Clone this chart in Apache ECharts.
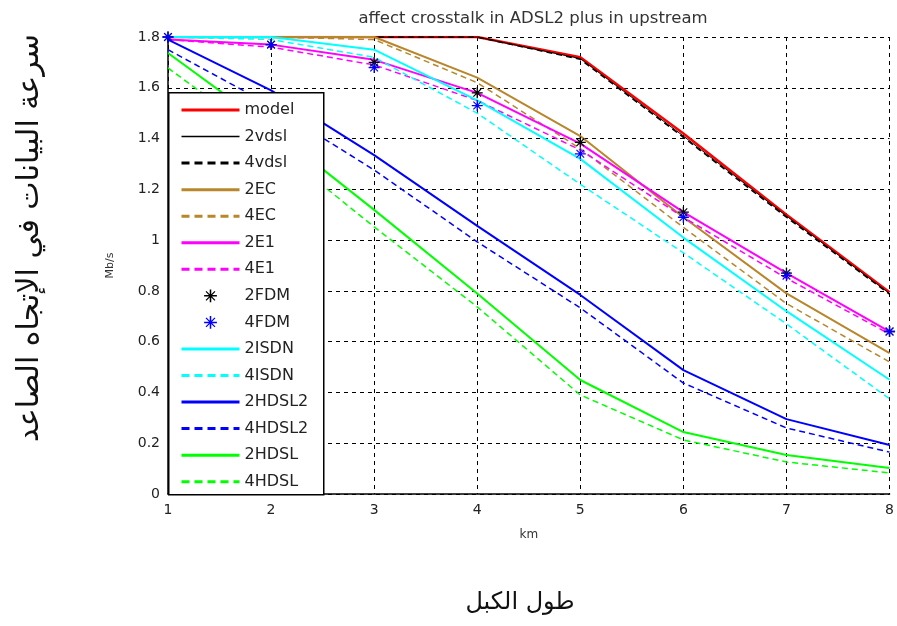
<!DOCTYPE html>
<html>
<head>
<meta charset="utf-8">
<script src="https://cdn.jsdelivr.net/npm/echarts@6/dist/echarts.min.js"></script>
<style>
html,body{margin:0;padding:0;background:#fff;}
#chart{width:897px;height:626px;}
</style>
</head>
<body>
<div id="chart"></div>
<script>
// ---- data ----
var km = [1, 2, 3, 4, 5, 6, 7, 8];
var yTicks = [0, 0.2, 0.4, 0.6, 0.8, 1, 1.2, 1.4, 1.6, 1.8];
var seriesNames = ['model','2vdsl','4vdsl','2EC','4EC','2E1','4E1','2FDM','4FDM','2ISDN','4ISDN','2HDSL2','4HDSL2','2HDSL','4HDSL'];
var model  = [1.80, 1.80, 1.80, 1.80, 1.72, 1.42, 1.10, 0.795];
var vdsl2  = [1.80, 1.80, 1.80, 1.80, 1.715, 1.41, 1.095, 0.79];
var vdsl4  = [1.80, 1.80, 1.80, 1.80, 1.712, 1.405, 1.09, 0.787];
var ec2    = [1.80, 1.80, 1.80, 1.64, 1.41, 1.09, 0.79, 0.555];
var ec4    = [1.80, 1.80, 1.79, 1.62, 1.36, 1.05, 0.75, 0.52];
var e12    = [1.79, 1.77, 1.71, 1.58, 1.38, 1.11, 0.87, 0.64];
var e14    = [1.79, 1.76, 1.69, 1.55, 1.355, 1.09, 0.85, 0.63];
var fdm2   = [1.80, 1.77, 1.70, 1.58, 1.385, 1.11, 0.87, 0.64];
var fdm4   = [1.80, 1.77, 1.68, 1.53, 1.34, 1.09, 0.86, 0.64];
var isdn2  = [1.80, 1.80, 1.75, 1.55, 1.32, 1.01, 0.72, 0.45];
var isdn4  = [1.80, 1.79, 1.72, 1.50, 1.22, 0.95, 0.67, 0.375];
var hdsl22 = [1.79, 1.59, 1.335, 1.056, 0.784, 0.488, 0.295, 0.193];
var hdsl24 = [1.75, 1.53, 1.276, 0.993, 0.733, 0.437, 0.26, 0.165];
var hdsl2  = [1.737, 1.44, 1.119, 0.79, 0.449, 0.244, 0.154, 0.102];
var hdsl4  = [1.678, 1.38, 1.052, 0.737, 0.39, 0.213, 0.126, 0.083];

function pairs(arr){ return km.map(function(x,i){ return [x, arr[i]]; }); }

var star = 'path://M-0.6,-5L0.6,-5L0.6,5L-0.6,5Z M-5,-0.6L5,-0.6L5,0.6L-5,0.6Z M-3.146,-3.854L3.854,3.146L3.146,3.854L-3.854,-3.146Z M-3.854,3.146L3.146,-3.854L3.854,-3.146L-3.146,3.854Z';

var BROWN = '#b8862b';
function lineS(name, arr, color, width, dashed){
  return {
    name: name, type: 'line', data: pairs(arr), symbol: 'none', silent: true,
    lineStyle: { color: color, width: width, type: dashed ? [6, 4] : 'solid' },
    itemStyle: { color: color, opacity: 0 },
    animation: false
  };
}
function markS(name, arr, color){
  return {
    name: name, type: 'line', data: pairs(arr), symbol: star, symbolSize: 11,
    showSymbol: true, silent: true,
    lineStyle: { width: 0, opacity: 0, color: color },
    itemStyle: { color: color },
    animation: false, z: 4
  };
}

var series = [
  lineS('model', model, '#ff0000', 2.5, false),
  lineS('2vdsl', vdsl2, '#000000', 1, false),
  lineS('4vdsl', vdsl4, '#000000', 1.5, true),
  lineS('2EC', ec2, BROWN, 2, false),
  lineS('4EC', ec4, BROWN, 1.5, true),
  lineS('2E1', e12, '#ff00ff', 2, false),
  lineS('4E1', e14, '#ff00ff', 1.5, true),
  markS('2FDM', fdm2, '#000000'),
  markS('4FDM', fdm4, '#0000ff'),
  lineS('2ISDN', isdn2, '#00ffff', 2, false),
  lineS('4ISDN', isdn4, '#00ffff', 1.5, true),
  lineS('2HDSL2', hdsl22, '#0000ff', 2, false),
  lineS('4HDSL2', hdsl24, '#0000ff', 1.5, true),
  lineS('2HDSL', hdsl2, '#00ff00', 2, false),
  lineS('4HDSL', hdsl4, '#00ff00', 1.5, true)
];

var legendData = seriesNames.map(function(n){
  if (n === '2FDM' || n === '4FDM') return { name: n };
  var dashed = n.charAt(0) === '4';
  return { name: n, itemStyle: { opacity: 0 },
    lineStyle: { width: n === '2vdsl' ? 1.5 : 3, type: dashed ? [8, 5] : 'solid' } };
});

var chart = echarts.init(document.getElementById('chart'), null, {renderer: 'canvas'});
chart.setOption({
  backgroundColor: '#ffffff',
  animation: false,
  title: {
    text: 'affect crosstalk in ADSL2 plus in upstream',
    left: 528, textAlign: 'center', top: 5,
    textStyle: { fontFamily: 'DejaVu Sans', fontSize: 16.5, fontWeight: 'normal', color: '#333' }
  },
  grid: { left: 168, right: 4, top: 37, bottom: 132, containLabel: false },
  xAxis: {
    type: 'value', min: 1, max: 8, interval: 1,
    name: 'km', nameLocation: 'middle', nameGap: 35,
    nameTextStyle: { fontFamily: 'DejaVu Sans', fontSize: 12, color: '#333' },
    axisLine: { show: true, lineStyle: { color: '#000', width: 1.5 } },
    axisTick: { show: false },
    axisLabel: { margin: 9, fontFamily: 'DejaVu Sans', fontSize: 14, color: '#222' },
    splitLine: { show: true, lineStyle: { color: '#000', type: [4, 4], width: 1 } }
  },
  yAxis: {
    type: 'value', min: 0, max: 1.8, interval: 0.2,
    name: 'Mb/s', nameLocation: 'middle', nameGap: 52, nameRotate: 90,
    nameTextStyle: { fontFamily: 'DejaVu Sans', fontSize: 11, color: '#333' },
    axisLine: { show: true, lineStyle: { color: '#000', width: 1.5 } },
    axisTick: { show: false },
    axisLabel: { margin: 8, fontFamily: 'DejaVu Sans', fontSize: 14, color: '#222',
      formatter: function(v){ return String(Math.round(v*10)/10); } },
    splitLine: { show: true, lineStyle: { color: '#000', type: [4, 4], width: 1 } }
  },
  legend: {
    data: legendData,
    orient: 'vertical', left: 180, top: 102, padding: 0,
    itemWidth: 58, itemHeight: 16, itemGap: 10.55,
    selectedMode: false, z: 10,
    textStyle: { fontFamily: 'DejaVu Sans', fontSize: 16, color: '#222', lineHeight: 16 }
  },
  graphic: [
    { type: 'rect', left: 168, top: 92, z: 9,
      shape: { width: 155, height: 402 },
      style: { fill: '#fff', stroke: '#000', lineWidth: 1.5 } },
    { type: 'text', x: 30, y: 238, rotation: Math.PI/2, z: 10,
      style: { text: 'سرعة البيانات في الإتجاه الصاعد', fontFamily: 'DejaVu Sans', fontSize: 30,
        fill: '#111', textAlign: 'center', textVerticalAlign: 'middle' } },
    { type: 'text', x: 520, y: 603, z: 10,
      style: { text: 'طول الكبل', fontFamily: 'DejaVu Sans', fontSize: 24,
        fill: '#111', textAlign: 'center', textVerticalAlign: 'middle' } }
  ],
  series: series
});
</script>
</body>
</html>
